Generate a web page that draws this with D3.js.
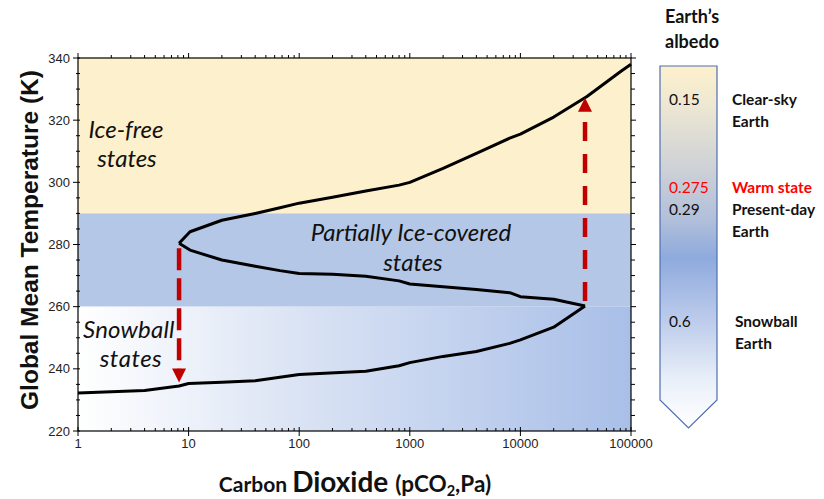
<!DOCTYPE html>
<html><head><meta charset="utf-8">
<script src="https://cdn.jsdelivr.net/npm/d3@7"></script>
<style>body{margin:0;background:#fff}svg{display:block}</style>
</head><body>
<svg id="c" width="824" height="499"></svg>
<script>
// ---- data ----
const xTicks = [1, 10, 100, 1000, 10000, 100000];
const yTicks = [220, 240, 260, 280, 300, 320, 340];
const bands = [ {name:"Ice-free", lo:290, hi:340}, {name:"Partial", lo:260, hi:290}, {name:"Snowball", lo:220, hi:260} ];
const warmCO2 = [8.2, 10.3, 20, 40, 67, 100, 200, 400, 800, 1000, 2000, 4000, 8000, 10000, 20000, 40000, 80000, 100000];
const warmT   = [280.4, 284.1, 287.8, 290, 291.8, 293.3, 295.2, 297.2, 299.1, 300, 304.5, 309.3, 314.2, 315.5, 321, 327.6, 335.6, 338];
const midCO2  = [8.2, 10.3, 20, 40, 67, 100, 200, 400, 800, 1000, 2000, 4000, 8000, 10000, 20000, 38400];
const midT    = [280.4, 278.2, 275, 273, 271.6, 270.7, 270.4, 269.8, 268.3, 267.3, 266.4, 265.5, 264.5, 263.2, 262.4, 260.2];
const snowCO2 = [1, 4, 8.2, 10, 20, 40, 100, 400, 800, 1000, 2000, 4000, 8000, 10000, 20000, 38400];
const snowT   = [232.2, 233, 234.5, 235.3, 235.7, 236.2, 238.2, 239.2, 241, 242, 244, 245.6, 248.2, 249.3, 253.4, 260.2];
const arrowCO2  = [8.2, 38400];
const arrowFrom = [280.4, 260.2];
const arrowTo   = [235.6, 327.2];
const albedoVals   = ["0.15", "0.275", "0.29", "0.6"];
const albedoLabels = [["Clear-sky","Earth"], ["Warm state"], ["Present-day","Earth"], ["Snowball","Earth"]];

// ---- layout ----
const svg = d3.select("#c");
const L = 78, R = 631, T = 58, B = 431;
const x = d3.scaleLog().domain([1, 100000]).range([L, R]);
const y = d3.scaleLinear().domain([220, 340]).range([B, T]);

const defs = svg.append("defs");
const g1 = defs.append("linearGradient").attr("id","snowG").attr("x1","0").attr("x2","1").attr("y1","0").attr("y2","0");
g1.append("stop").attr("offset","0").attr("stop-color","#ffffff");
g1.append("stop").attr("offset","0.45").attr("stop-color","#d6e0f3");
g1.append("stop").attr("offset","1").attr("stop-color","#a9bfe8");
const g2 = defs.append("linearGradient").attr("id","barG").attr("x1","0").attr("x2","0").attr("y1","0").attr("y2","1");
[[0,"#fdf0cc"],[0.1,"#efe8d2"],[0.26,"#d2d4d6"],[0.42,"#b2c0da"],[0.53,"#8eaadd"],[0.7,"#bccbeb"],[0.87,"#eaf0f9"],[1,"#ffffff"]]
  .forEach(s=>g2.append("stop").attr("offset",s[0]).attr("stop-color",s[1]));

const bandFill = ["#fdf0cc", "#b4c7e7", "url(#snowG)"];
svg.selectAll("rect.band").data(bands).join("rect").attr("class","band")
  .attr("x", L).attr("width", R-L)
  .attr("y", d=>y(d.hi)).attr("height", d=>y(d.lo)-y(d.hi))
  .attr("fill", (d,i)=>bandFill[i]);

// curve
const line = d3.line().x(d=>x(d[0])).y(d=>y(d[1]));
[[warmCO2,warmT],[midCO2,midT],[snowCO2,snowT]].forEach(([a,b])=>{
  svg.append("path").attr("d", line(a.map((v,i)=>[v,b[i]])))
    .attr("fill","none").attr("stroke","#000").attr("stroke-width",3).attr("stroke-linejoin","round");
});

// arrows
arrowCO2.forEach((c,i)=>{
  const x0 = x(c), yf = y(arrowFrom[i]), yt = y(arrowTo[i]);
  const dir = yt > yf ? 1 : -1;
  const head = 14;
  svg.append("line").attr("x1",x0).attr("x2",x0).attr("y1", yf + dir*5).attr("y2", yt - dir*head)
    .attr("stroke","#c00000").attr("stroke-width",4.5)
    .attr("stroke-dasharray", dir>0 ? "22,8" : "19,13");
  svg.append("path").attr("d", `M${x0},${yt} L${x0-7},${yt-dir*head} L${x0+7},${yt-dir*head}Z`).attr("fill","#c00000");
});

// axes frame
svg.append("rect").attr("x",L).attr("y",T).attr("width",R-L).attr("height",B-T)
  .attr("fill","none").attr("stroke","#000").attr("stroke-width",1.2);

const minorX = [];
for (let e=0;e<5;e++) for (let m=2;m<=9;m++) minorX.push(m*Math.pow(10,e));
const minorY = d3.range(225, 340, 5).filter(v=>v%20!==0);

const axG = svg.append("g").attr("stroke","#000").attr("stroke-width",1);
xTicks.forEach(v=>axG.append("line").attr("x1",x(v)).attr("x2",x(v)).attr("y1",B-4).attr("y2",B+5));
minorX.forEach(v=>axG.append("line").attr("x1",x(v)).attr("x2",x(v)).attr("y1",B-3).attr("y2",B));
xTicks.forEach(v=>axG.append("line").attr("x1",x(v)).attr("x2",x(v)).attr("y1",T-5).attr("y2",T));
minorX.forEach(v=>axG.append("line").attr("x1",x(v)).attr("x2",x(v)).attr("y1",T-3).attr("y2",T));
yTicks.forEach(v=>axG.append("line").attr("x1",L-5).attr("x2",L+2).attr("y1",y(v)).attr("y2",y(v)));
minorY.forEach(v=>axG.append("line").attr("x1",L-2).attr("x2",L+2).attr("y1",y(v)).attr("y2",y(v)));
yTicks.forEach(v=>axG.append("line").attr("x1",R).attr("x2",R+5).attr("y1",y(v)).attr("y2",y(v)));
minorY.forEach(v=>axG.append("line").attr("x1",R).attr("x2",R+4).attr("y1",y(v)).attr("y2",y(v)));

const tickFont = "'Liberation Sans', Arial, sans-serif";
svg.selectAll("text.xt").data(xTicks).join("text").attr("class","xt")
  .attr("x", d=>x(d)).attr("y", 448).attr("text-anchor","middle")
  .attr("font-family", tickFont).attr("font-size", 13).attr("fill","#222").text(d=>String(d));
svg.selectAll("text.yt").data(yTicks).join("text").attr("class","yt")
  .attr("x", 70).attr("y", d=>y(d)+4.5).attr("text-anchor","end")
  .attr("font-family", tickFont).attr("font-size", 13).attr("fill","#222").text(d=>d);

// axis titles
svg.append("text").attr("transform","translate(38,240) rotate(-90)").attr("text-anchor","middle")
  .attr("font-family", tickFont).attr("font-weight","bold").attr("font-size", 24.5).attr("fill","#111")
  .text("Global Mean Temperature (K)");
const xt = svg.append("text").attr("x", 355).attr("y", 492).attr("text-anchor","middle")
  .attr("font-family","Lato, 'Open Sans', sans-serif").attr("font-weight","bold").attr("fill","#111");
xt.append("tspan").attr("font-size",21).text("Carbon ");
xt.append("tspan").attr("font-size",28).text("Dioxide ");
xt.append("tspan").attr("font-size",22.5).text("(pCO");
xt.append("tspan").attr("font-size",14.5).attr("dy",4).text("2");
xt.append("tspan").attr("font-size",22.5).attr("dy",-4).text(",Pa)");

// region labels
const lab = (txt, xx, yy, anchor, ls) => svg.append("text").attr("x",xx).attr("y",yy).attr("text-anchor",anchor||"middle")
  .attr("font-family","Lato, 'Open Sans', sans-serif").attr("font-style","italic").attr("font-size",24)
  .attr("letter-spacing", ls||0).attr("fill","#111").text(txt);
lab("Ice-free", 126, 138); lab("states", 127, 167);
lab("Partially Ice-covered", 411, 241); lab("states", 413, 271);
lab("Snowball", 83, 338, "start", 0.2); lab("states", 131, 367, "middle", 0.5);

// colorbar
const cb = {l:660, r:717, t:66, b:400, tip:428};
svg.append("path").attr("d", `M${cb.l},${cb.t} L${cb.r},${cb.t} L${cb.r},${cb.b} L${(cb.l+cb.r)/2},${cb.tip} L${cb.l},${cb.b}Z`)
  .attr("fill","url(#barG)").attr("stroke","#4f6fae").attr("stroke-width",1.2);
const hdr = svg.append("g").attr("font-family","Lato, 'Open Sans', sans-serif").attr("font-weight","bold").attr("font-size",18).attr("fill","#111").attr("text-anchor","middle");
hdr.append("text").attr("x",692).attr("y",23).text("Earth\u2019s");
hdr.append("text").attr("x",692).attr("y",48).text("albedo");
const valY = [105, 193, 215, 327];
albedoVals.forEach((v,i)=>{
  const red = i===1;
  svg.append("text").attr("x",669).attr("y",valY[i]).attr("font-family","Lato, 'Open Sans', sans-serif")
    .attr("font-size",15.5).attr("fill", red?"#ff0000":"#111").text(v);
  albedoLabels[i].forEach((t,j)=>{
    svg.append("text").attr("x", i===3 ? 735 : 732).attr("y", valY[i]+ j*22).attr("font-family","Lato, 'Open Sans', sans-serif")
      .attr("font-weight","bold").attr("font-size",15.5).attr("fill", red?"#ff0000":"#111").text(t);
  });
});
</script>
</body></html>
